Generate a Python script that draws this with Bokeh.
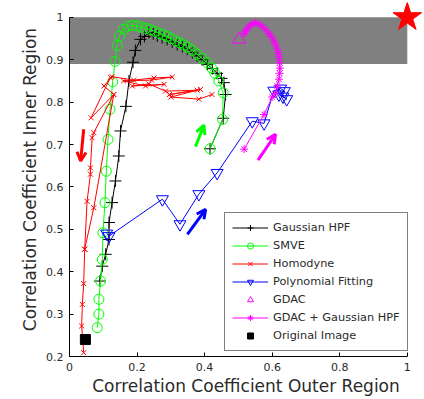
from bokeh.plotting import figure
from bokeh.models import (Range1d, FixedTicker, CustomJSTickFormatter, Arrow, OpenHead,
                          Legend, LegendItem, Title)
from bokeh.embed import file_html
from bokeh.resources import INLINE

NaN = float("nan")

# ---------------- data ----------------
x_ticks = [0.0, 0.2, 0.4, 0.6, 0.8, 1.0]
y_ticks = [0.2, 0.3, 0.4, 0.5, 0.6, 0.7, 0.8, 0.9, 1.0]

x_label = "Correlation Coefficient Outer Region"
y_label = "Correlation Coefficient Inner Region"

series_names = ["Gaussian HPF", "SMVE", "Homodyne", "Polynomial Fitting",
                "GDAC", "GDAC + Gaussian HPF", "Original Image"]

band_x = [0.0, 1.0]
band_y = [0.89, 1.0]

ghpf_x = [0.090, 0.097, 0.107, 0.117, 0.117, 0.126, 0.136, 0.146, 0.151, 0.167, 0.176,
          0.188, 0.195, 0.210, 0.222, 0.235, 0.248, 0.260, 0.274, 0.289, 0.304, 0.319,
          0.334, 0.349, 0.364, 0.378, 0.393, 0.408, 0.423, 0.437, 0.450, 0.457, 0.462,
          0.455, 0.416]
ghpf_y = [0.378, 0.413, 0.441, 0.476, 0.516, 0.563, 0.614, 0.673, 0.732, 0.790, 0.850,
          0.894, 0.922, 0.948, 0.955, 0.964, 0.961, 0.956, 0.952, 0.948, 0.942, 0.936,
          0.931, 0.925, 0.917, 0.909, 0.900, 0.889, 0.879, 0.868, 0.856, 0.846, 0.818,
          0.762, 0.690]

smve_x = [0.082, 0.087, 0.087, 0.092, 0.097, 0.099, 0.105, 0.109, 0.114, 0.120, 0.128,
          0.135, 0.141, 0.148, 0.160, 0.172, 0.186, 0.200, 0.213, 0.226, 0.240, 0.253,
          0.266, 0.278, 0.289, 0.302, 0.314, 0.327, 0.339, 0.351, 0.364, 0.378, 0.393,
          0.408, 0.420, 0.430, 0.442, 0.455, 0.453, 0.416]
smve_y = [0.268, 0.300, 0.335, 0.378, 0.429, 0.492, 0.563, 0.637, 0.712, 0.783, 0.848,
          0.896, 0.934, 0.956, 0.972, 0.979, 0.981, 0.980, 0.977, 0.974, 0.971, 0.967,
          0.962, 0.959, 0.955, 0.950, 0.945, 0.940, 0.935, 0.929, 0.922, 0.913, 0.903,
          0.893, 0.881, 0.868, 0.850, 0.822, 0.759, 0.690]

homo_x = [0.042, 0.036, 0.038, 0.042, 0.045, 0.072, 0.131, 0.102, 0.126, 0.190, 0.250,
          0.304, 0.243, 0.160, 0.225, 0.280, 0.186, 0.235, 0.284, 0.378, 0.296, 0.388,
          0.300, 0.383, 0.422, NaN,
          0.045, 0.052, 0.062, 0.062, 0.067, 0.072, 0.131, 0.064, 0.121]
homo_y = [0.209, 0.272, 0.323, 0.372, 0.453, 0.551, 0.818, 0.838, 0.860, 0.852, 0.857,
          0.859, 0.852, 0.850, 0.838, 0.842, 0.838, 0.843, 0.826, 0.828, 0.818, 0.830,
          0.812, 0.807, 0.818, NaN,
          0.453, 0.566, 0.630, 0.645, 0.716, 0.728, 0.818, 0.763, 0.858]

poly_x = [0.110, 0.117, 0.275, 0.327, 0.383, 0.437, 0.541, 0.576, 0.605, 0.625, 0.636,
          0.620, 0.643, 0.632]
poly_y = [0.490, 0.484, 0.571, 0.512, 0.583, 0.633, 0.755, 0.750, 0.827, 0.832, 0.826,
          0.818, 0.807, 0.813]

gdac_x = [0.502]
gdac_y = [0.948]

gg_x = [0.517, 0.576, 0.600, 0.609, 0.615, 0.620, 0.622, 0.623, 0.622, 0.620, 0.618,
        0.615, 0.610, 0.605, 0.598, 0.590, 0.581, 0.571, 0.561, 0.551, 0.543, 0.536,
        0.528, 0.522, 0.517]
gg_y = [0.689, 0.771, 0.812, 0.820, 0.838, 0.854, 0.868, 0.880, 0.893, 0.905, 0.915,
        0.925, 0.935, 0.944, 0.954, 0.962, 0.971, 0.978, 0.984, 0.987, 0.985, 0.982,
        0.975, 0.968, 0.962]

orig_x = [0.047]
orig_y = [0.240]

target_x = [1.0]
target_y = [1.0]

arrow_x0 = [0.042, 0.373, 0.349, 0.558]
arrow_y0 = [0.736, 0.695, 0.488, 0.663]
arrow_x1 = [0.033, 0.398, 0.403, 0.610]
arrow_y1 = [0.661, 0.746, 0.547, 0.724]

# ---------------- styles ----------------
FONT = "DejaVu Sans"
TXT = "#2a2a2a"
BLACK, GREEN, RED, BLUE, MAGENTA = "#000000", "#00FF00", "#FF0000", "#0000FF", "#FF00FF"
arrow_colors = [RED, GREEN, BLUE, MAGENTA]

p = figure(width=424, height=399, x_range=Range1d(0, 1.045), y_range=Range1d(0.2, 1.035),
           output_backend="svg", toolbar_location=None,
           min_border_left=69, min_border_right=2, min_border_top=2, min_border_bottom=43)
p.outline_line_color = None
p.background_fill_color = "white"
p.border_fill_color = "white"
p.xgrid.visible = False
p.ygrid.visible = False

fmt = CustomJSTickFormatter(code="return (Math.round(tick*10)/10).toString();")
for ax, ticks, bounds in ((p.xaxis[0], x_ticks, (0, 1)),
                          (p.yaxis[0], y_ticks, (0.2, 1))):
    ax.ticker = FixedTicker(ticks=ticks)
    ax.formatter = fmt
    ax.bounds = bounds
    ax.major_label_text_font = FONT
    ax.major_label_text_font_size = "11px"
    ax.major_label_text_color = TXT
    ax.major_tick_in = 4
    ax.major_tick_out = 0
    ax.minor_tick_line_color = None
    ax.axis_line_color = "#000000"
    ax.major_tick_line_color = "#000000"
p.xaxis[0].major_label_standoff = 6
p.yaxis[0].major_label_standoff = 6

# axis titles, shifted so they are centred on the 0..1 / 0.2..1 spans of the axes
p.add_layout(Title(text=x_label, align="center", offset=-8, standoff=1,
                   text_font=FONT, text_font_size="17px", text_font_style="normal",
                   text_color=TXT), "below")
p.add_layout(Title(text=y_label, align="center", offset=-7, standoff=8,
                   text_font=FONT, text_font_size="17px", text_font_style="normal",
                   text_color=TXT), "left")

# gray target band
p.quad(left=band_x[0], right=band_x[1], bottom=band_y[0], top=band_y[1],
       fill_color="#808080", line_color=None)

items = []

r1 = p.line(ghpf_x, ghpf_y, line_color=BLACK, line_width=1)
s1 = p.scatter(ghpf_x, ghpf_y, marker="cross", size=12, line_color=BLACK, line_width=1)
items.append(LegendItem(label=series_names[0], renderers=[r1, s1]))

r2 = p.line(smve_x, smve_y, line_color=GREEN, line_width=1)
s2 = p.scatter(smve_x, smve_y, marker="circle", size=10, line_color=GREEN, fill_color=None,
               line_width=1)
items.append(LegendItem(label=series_names[1], renderers=[r2, s2]))

r3 = p.line(homo_x, homo_y, line_color=RED, line_width=1)
s3 = p.scatter(homo_x, homo_y, marker="x", size=7, line_color=RED, line_width=1)
items.append(LegendItem(label=series_names[2], renderers=[r3, s3]))

r4 = p.line(poly_x, poly_y, line_color=BLUE, line_width=1)
s4 = p.scatter(poly_x, poly_y, marker="inverted_triangle", size=12, line_color=BLUE,
               fill_color=None, line_width=1)
items.append(LegendItem(label=series_names[3], renderers=[r4, s4]))

s5 = p.scatter(gdac_x, gdac_y, marker="triangle", size=13, line_color=MAGENTA,
               fill_color=None, line_width=1)
items.append(LegendItem(label=series_names[4], renderers=[s5]))

r6 = p.line(gg_x, gg_y, line_color=MAGENTA, line_width=1)
s6 = p.scatter(gg_x, gg_y, marker="asterisk", size=8, line_color=MAGENTA, line_width=1)
items.append(LegendItem(label=series_names[5], renderers=[r6, s6]))

s7 = p.scatter(orig_x, orig_y, marker="square", size=10, line_color=BLACK, fill_color=BLACK)
items.append(LegendItem(label=series_names[6], renderers=[s7]))

# ideal point
p.scatter(target_x, target_y, marker="star", size=30, line_color=RED, fill_color=RED)

for x0, y0, x1, y1, c in zip(arrow_x0, arrow_y0, arrow_x1, arrow_y1, arrow_colors):
    p.add_layout(Arrow(x_start=x0, y_start=y0, x_end=x1, y_end=y1, line_color=c,
                       line_width=3,
                       end=OpenHead(size=9, line_color=c, line_width=3)))

legend = Legend(items=items, location=(155, 5), margin=0, padding=7, spacing=3,
                glyph_width=36, glyph_height=15, label_height=15, label_standoff=5,
                label_text_font=FONT, label_text_font_size="11.3px",
                label_text_color=TXT,
                border_line_color="#000000", border_line_width=1,
                background_fill_color="white", background_fill_alpha=1.0)
p.add_layout(legend)

open("out.html", "w").write(file_html(p, INLINE))
